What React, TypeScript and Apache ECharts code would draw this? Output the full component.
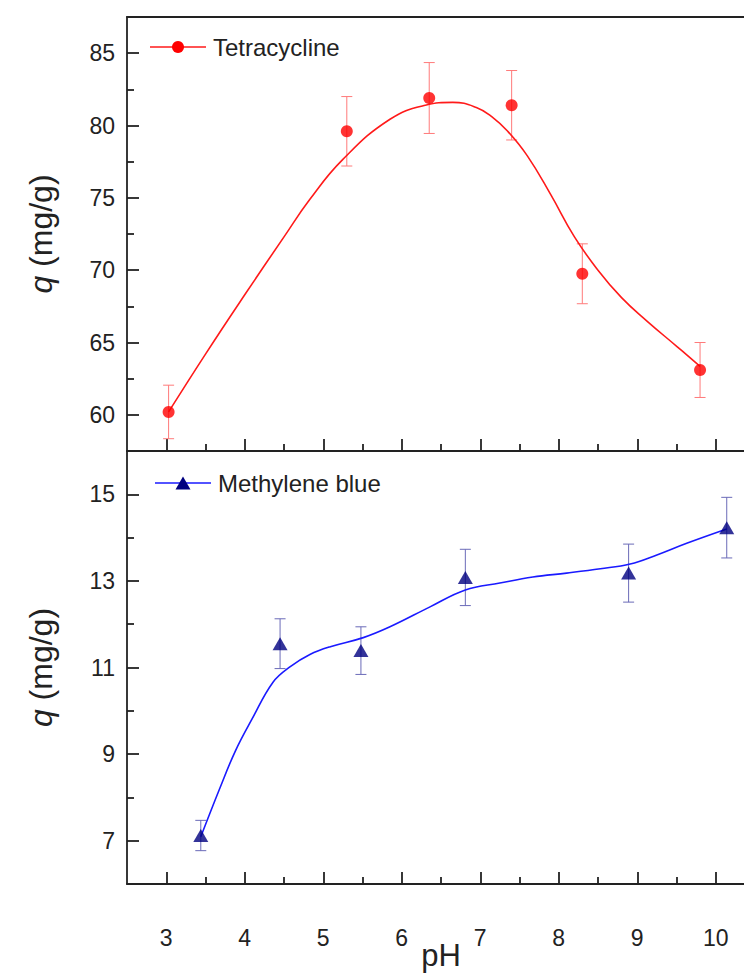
import React, { useEffect, useRef } from "react";
import * as echarts from "echarts";

// Tetracycline measured points (pH, q, error)
const tcX = [3.03, 5.3, 6.35, 7.4, 8.3, 9.8];
const tcY = [60.2, 79.6, 81.9, 81.4, 69.75, 63.1];
const tcErr = [1.85, 2.4, 2.45, 2.4, 2.07, 1.9];
// Tetracycline fitted curve
const tcCurveX = [3.03, 3.5, 4.0, 4.5, 4.83, 5.25, 5.85, 6.3, 6.65, 6.95, 7.15, 7.35, 7.6, 7.9, 8.2, 8.5, 8.8, 9.12, 9.51, 9.8];
const tcCurveY = [60.2, 64.2, 68.3, 72.3, 74.9, 77.66, 80.43, 81.4, 81.6, 81.25, 80.6, 79.6, 77.9, 75.2, 72.3, 70.0, 68.1, 66.5, 64.7, 63.35];

// Methylene blue measured points
const mbX = [3.44, 4.45, 5.48, 6.81, 8.89, 10.14];
const mbY = [7.12, 11.55, 11.39, 13.08, 13.18, 14.23];
const mbErr = [0.35, 0.575, 0.55, 0.65, 0.67, 0.7];
// Methylene blue fitted curve
const mbCurveX = [3.44, 3.68, 3.88, 4.09, 4.36, 4.58, 4.83, 5.09, 5.51, 5.85, 6.36, 6.81, 7.25, 7.67, 8.1, 8.53, 8.91, 9.25, 9.63, 10.14];
const mbCurveY = [7.09, 8.2, 9.07, 9.8, 10.66, 11.02, 11.3, 11.48, 11.69, 11.94, 12.4, 12.79, 12.95, 13.09, 13.18, 13.28, 13.39, 13.6, 13.87, 14.2];

// Tick values
const xMajor = [3, 4, 5, 6, 7, 8, 9, 10];
const xMinor = [3.5, 4.5, 5.5, 6.5, 7.5, 8.5, 9.5, 10.5];
const tcYMajor = [60, 65, 70, 75, 80, 85];
const tcYMinor = [62.5, 67.5, 72.5, 77.5, 82.5];
const mbYMajor = [7, 9, 11, 13, 15];
const mbYMinor = [8, 10, 12, 14];

const FONT = "'Liberation Sans', Arial, sans-serif";
const AX = "#222";

function errBar(color: string) {
  return (params: any, api: any) => {
    const x = api.value(0);
    const lo = api.coord([x, api.value(1)]);
    const hi = api.coord([x, api.value(2)]);
    const w = 5.5;
    const st = { stroke: color, lineWidth: 1 };
    return {
      type: "group",
      children: [
        { type: "line", shape: { x1: lo[0], y1: lo[1], x2: hi[0], y2: hi[1] }, style: st },
        { type: "line", shape: { x1: lo[0] - w, y1: lo[1], x2: lo[0] + w, y2: lo[1] }, style: st },
        { type: "line", shape: { x1: hi[0] - w, y1: hi[1], x2: hi[0] + w, y2: hi[1] }, style: st },
      ],
    };
  };
}

export default function App() {
  const ref = useRef<HTMLDivElement>(null);
  useEffect(() => {
    if (!ref.current) return;
    const chart = echarts.init(ref.current, undefined, { renderer: "svg" });

    const xBase = (gridIndex: number) => ({
      type: "value",
      gridIndex,
      min: 2.5,
      max: 10.5,
      position: "bottom",
      splitLine: { show: false },
      axisLine: { onZero: false, lineStyle: { color: AX, width: 1.8 } },
    });
    const yBase = (gridIndex: number, min: number, max: number) => ({
      type: "value",
      gridIndex,
      min,
      max,
      position: "left",
      splitLine: { show: false },
      axisLine: { onZero: false, lineStyle: { color: AX, width: 1.8 } },
    });

    const yName = "{i|q} (mg/g)";
    const nameStyle = {
      fontSize: 32,
      fontFamily: FONT,
      color: AX,
      rich: { i: { fontStyle: "italic", fontSize: 32, fontFamily: FONT, color: AX } },
    };
    const labelStyle = { fontSize: 23, fontFamily: FONT, color: AX };

    const option: any = {
      animation: false,
      backgroundColor: "#fff",
      grid: [
        { left: 127, top: 17, width: 628, height: 434, outerBoundsMode: "none", containLabel: false },
        { left: 127, top: 451, width: 628, height: 433, outerBoundsMode: "none", containLabel: false },
      ],
      xAxis: [
        {
          ...xBase(0),
          axisTick: { show: true, inside: true, length: 12, customValues: xMajor, lineStyle: { color: AX, width: 1.8 } },
          axisLabel: { show: false },
        },
        {
          ...xBase(0),
          axisLine: { show: false, onZero: false },
          axisTick: { show: true, inside: true, length: 7, customValues: xMinor, lineStyle: { color: AX, width: 1.8 } },
          axisLabel: { show: false },
        },
        {
          ...xBase(0),
          position: "top",
          axisTick: { show: false },
          axisLabel: { show: false },
        },
        {
          ...xBase(1),
          axisTick: { show: true, inside: true, length: 12, customValues: xMajor, lineStyle: { color: AX, width: 1.8 } },
          axisLabel: { show: true, customValues: xMajor, margin: 42, ...labelStyle },
          name: "pH",
          nameLocation: "middle",
          nameGap: 56,
          nameMoveOverlap: false,
          nameTextStyle: { fontSize: 31, fontFamily: FONT, color: AX },
        },
        {
          ...xBase(1),
          axisLine: { show: false, onZero: false },
          axisTick: { show: true, inside: true, length: 7, customValues: xMinor, lineStyle: { color: AX, width: 1.8 } },
          axisLabel: { show: false },
        },
      ],
      yAxis: [
        {
          ...yBase(0, 57.5, 87.5),
          axisTick: { show: true, inside: true, length: 12, customValues: tcYMajor, lineStyle: { color: AX, width: 1.8 } },
          axisLabel: { show: true, customValues: tcYMajor, margin: 12, ...labelStyle },
          name: yName,
          nameLocation: "middle",
          nameGap: 70,
          nameTextStyle: nameStyle,
        },
        {
          ...yBase(0, 57.5, 87.5),
          axisLine: { show: false, onZero: false },
          axisTick: { show: true, inside: true, length: 7, customValues: tcYMinor, lineStyle: { color: AX, width: 1.8 } },
          axisLabel: { show: false },
        },
        {
          ...yBase(1, 6, 16),
          axisTick: { show: true, inside: true, length: 12, customValues: mbYMajor, lineStyle: { color: AX, width: 1.8 } },
          axisLabel: { show: true, customValues: mbYMajor, margin: 12, ...labelStyle },
          name: yName,
          nameLocation: "middle",
          nameGap: 70,
          nameTextStyle: nameStyle,
        },
        {
          ...yBase(1, 6, 16),
          axisLine: { show: false, onZero: false },
          axisTick: { show: true, inside: true, length: 7, customValues: mbYMinor, lineStyle: { color: AX, width: 1.8 } },
          axisLabel: { show: false },
        },
      ],
      series: [
        {
          type: "line",
          name: "Tetracycline fit",
          xAxisIndex: 0,
          yAxisIndex: 0,
          smooth: 0.45,
          showSymbol: false,
          symbol: "none",
          lineStyle: { color: "#ff1a1a", width: 1.6 },
          data: tcCurveX.map((x, i) => [x, tcCurveY[i]]),
          z: 3,
        },
        {
          type: "custom",
          name: "Tetracycline error",
          xAxisIndex: 0,
          yAxisIndex: 0,
          renderItem: errBar("#ff7a7a"),
          encode: { x: 0, y: [1, 2] },
          data: tcX.map((x, i) => [x, tcY[i] - tcErr[i], tcY[i] + tcErr[i]]),
          z: 2,
        },
        {
          type: "scatter",
          name: "Tetracycline",
          xAxisIndex: 0,
          yAxisIndex: 0,
          symbol: "circle",
          symbolSize: 12,
          itemStyle: { color: "#ff0000" },
          data: tcX.map((x, i) => [x, tcY[i]]),
          z: 4,
        },
        {
          type: "line",
          name: "Methylene blue fit",
          xAxisIndex: 3,
          yAxisIndex: 2,
          smooth: 0.4,
          showSymbol: false,
          symbol: "none",
          lineStyle: { color: "#1a1aff", width: 1.6 },
          data: mbCurveX.map((x, i) => [x, mbCurveY[i]]),
          z: 3,
        },
        {
          type: "custom",
          name: "Methylene blue error",
          xAxisIndex: 3,
          yAxisIndex: 2,
          renderItem: errBar("#6a6ab8"),
          encode: { x: 0, y: [1, 2] },
          data: mbX.map((x, i) => [x, mbY[i] - mbErr[i], mbY[i] + mbErr[i]]),
          z: 2,
        },
        {
          type: "scatter",
          name: "Methylene blue",
          xAxisIndex: 3,
          yAxisIndex: 2,
          symbol: "triangle",
          symbolSize: [15, 13],
          itemStyle: { color: "#000080" },
          data: mbX.map((x, i) => [x, mbY[i]]),
          z: 4,
        },
      ],
      graphic: [
        { type: "line", shape: { x1: 150, y1: 47, x2: 206, y2: 47 }, style: { stroke: "#ff1a1a", lineWidth: 1.6 } },
        { type: "circle", shape: { cx: 178, cy: 47, r: 6 }, style: { fill: "#ff0000" } },
        {
          type: "text",
          x: 213,
          y: 47,
          style: { text: "Tetracycline", font: `24px ${FONT}`, fill: AX, verticalAlign: "middle", align: "left" },
        },
        { type: "line", shape: { x1: 155, y1: 483, x2: 211, y2: 483 }, style: { stroke: "#1a1aff", lineWidth: 1.6 } },
        {
          type: "polygon",
          shape: { points: [[175.5, 489.5], [190.5, 489.5], [183, 476.5]] },
          style: { fill: "#000080" },
        },
        {
          type: "text",
          x: 218,
          y: 483,
          style: { text: "Methylene blue", font: `24px ${FONT}`, fill: AX, verticalAlign: "middle", align: "left" },
        },
      ],
    };

    chart.setOption(option);
    return () => chart.dispose();
  }, []);

  return (
    <div
      ref={ref}
      style={{ position: "fixed", left: 0, top: 0, width: 744, height: 974, background: "#fff" }}
    />
  );
}
